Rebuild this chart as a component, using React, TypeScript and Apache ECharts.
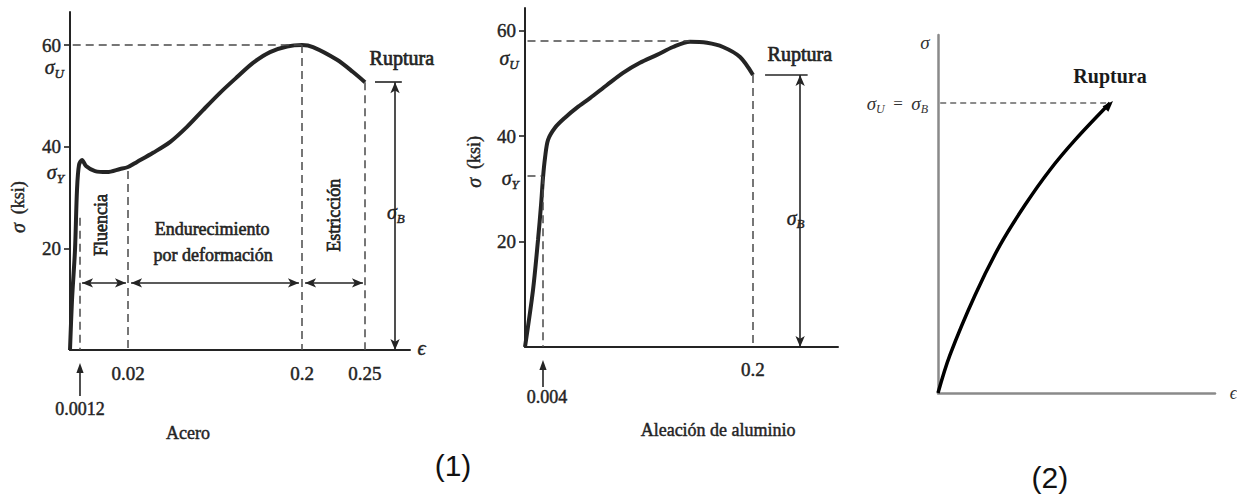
import React, { useEffect, useRef } from "react";
import * as echarts from "echarts";

const SERIF = '"Liberation Serif", "DejaVu Serif", serif';
const SANS = '"Liberation Sans", "DejaVu Sans", sans-serif';
const INK = "#242424";
const DASH = "#4a4a4a";

// ---------- (1) Acero ----------
// schematic (not-to-scale) strain axis: tick strains and their positions on a 0-100 axis
const steelStrainTicks = [0, 0.0012, 0.02, 0.2, 0.25];
const steelTickPos = [0, 2.94, 17.06, 68.24, 86.76];
const steelTickLabels = ["", "0.0012", "0.02", "0.2", "0.25"];
const steelYTicks = [20, 40, 60];
const steelStrain = [0, 0.00024, 0.0006, 0.00084, 0.00108, 0.002, 0.00355, 0.0071, 0.0118, 0.0169, 0.02, 0.0293, 0.0459, 0.0634, 0.081, 0.0976, 0.1152, 0.1328, 0.1493, 0.1669, 0.1845, 0.2, 0.2087, 0.2278, 0.2405, 0.25];
const steelStress = [0, 9.8, 19.7, 31.5, 36.4, 37.4, 36.2, 35.2, 35.0, 35.6, 36.0, 37.0, 38.8, 40.9, 43.9, 47.2, 50.6, 53.7, 56.5, 58.6, 59.7, 60.0, 59.6, 57.1, 54.7, 52.7];
const steelUltimate = 60;
const steelYield = 36.0;
const steelRupture = 52.7;

// ---------- (1) Aleación de aluminio ----------
const aluStrainTicks = [0, 0.004, 0.2];
const aluTickPos = [0, 5.75, 72.84];
const aluTickLabels = ["", "0.004", "0.2"];
const aluYTicks = [20, 40, 60];
const aluStrain = [0, 0.00178, 0.00289, 0.00356, 0.004, 0.0059, 0.0087, 0.0152, 0.0245, 0.0357, 0.0479, 0.0637, 0.0787, 0.0945, 0.1104, 0.1253, 0.1412, 0.1571, 0.172, 0.1879, 0.2];
const aluStress = [0, 10.8, 20.3, 26.9, 32.1, 35.9, 39.3, 41.6, 43.5, 45.4, 47.2, 49.7, 52.0, 53.9, 55.4, 56.9, 57.9, 57.7, 56.9, 55.0, 51.6];
const aluUltimate = 58.0;
const aluYield = 32.4;
const aluRupture = 51.6;
const aluUltimateStrain = 0.141;

// ---------- (2) brittle material (dimensionless) ----------
const brittleStrain = [0, 0.043, 0.134, 0.224, 0.314, 0.404, 0.495, 0.621];
const brittleStress = [0, 0.106, 0.274, 0.413, 0.525, 0.623, 0.707, 0.81];

function piecewise(v: number, xs: number[], ys: number[]) {
  const n = xs.length;
  for (let i = 1; i < n; i++) {
    if (v <= xs[i] || i === n - 1) {
      return ys[i - 1] + ((v - xs[i - 1]) / (xs[i] - xs[i - 1])) * (ys[i] - ys[i - 1]);
    }
  }
  return ys[n - 1];
}
const sPos = (s: number) => piecewise(s, steelStrainTicks, steelTickPos);
const aPos = (s: number) => piecewise(s, aluStrainTicks, aluTickPos);

const dashed = (a: number[], b: number[]) => [{ coord: a }, { coord: b }];
const dblArrow = (a: number[], b: number[]) => [
  { coord: a, symbol: "arrow", lineStyle: { type: "solid", color: INK, width: 1.6 } },
  { coord: b, symbol: "arrow" },
];
const solid = (a: number[], b: number[]) => [
  { coord: a, symbol: "none", lineStyle: { type: "solid", color: INK, width: 1.6 } },
  { coord: b, symbol: "none" },
];

function yAxisFor(grid: number, max: number, ticks: number[]) {
  return {
    gridIndex: grid,
    type: "value",
    min: 0,
    max,
    interval: 20,
    axisLine: { show: true, lineStyle: { color: INK, width: 2 } },
    axisTick: { show: true, length: 6, customValues: ticks, lineStyle: { color: INK, width: 1.6 } },
    axisLabel: {
      customValues: ticks,
      margin: 9,
      fontFamily: SERIF,
      fontSize: 19,
      color: INK,
      textBorderColor: INK,
      textBorderWidth: 0.4,
    },
    splitLine: { show: false },
  };
}
function xAxisFor(grid: number, max: number, color: string, width: number) {
  return {
    gridIndex: grid,
    type: "value",
    min: 0,
    max,
    axisLine: { show: true, onZero: false, lineStyle: { color, width } },
    axisTick: { show: false },
    axisLabel: { show: false },
    splitLine: { show: false },
  };
}

function buildOption() {
  const markBase = {
    silent: true,
    animation: false,
    symbol: "none",
    symbolSize: [7, 11],
    label: { show: false },
    emphasis: { disabled: true },
    lineStyle: { color: DASH, width: 1.5, type: [8, 5] },
  };
  const steelArrowY = 13.2;
  const steelSigmaBX = 95.6;
  const aluSigmaBX = 87.9;
  return {
    animation: false,
    backgroundColor: "#ffffff",
    grid: [
      { left: 70, top: 12, width: 340, height: 338 },
      { left: 525, top: 8, width: 313, height: 339 },
      { left: 938, top: 35, width: 277, height: 358 },
    ],
    xAxis: [xAxisFor(0, 100, INK, 2), xAxisFor(1, 100, INK, 2), xAxisFor(2, 1, "#8a8a8a", 2.5)],
    yAxis: [
      yAxisFor(0, 66.5, steelYTicks),
      yAxisFor(1, 64.3, aluYTicks),
      {
        gridIndex: 2,
        type: "value",
        min: 0,
        max: 1,
        axisLine: { show: true, lineStyle: { color: "#8a8a8a", width: 2.5 } },
        axisTick: { show: false },
        axisLabel: { show: false },
        splitLine: { show: false },
      },
    ],
    series: [
      {
        name: "Acero",
        type: "line",
        xAxisIndex: 0,
        yAxisIndex: 0,
        data: steelStrain.map((s, i) => [sPos(s), steelStress[i]]),
        symbol: "none",
        smooth: 0.3,
        lineStyle: { color: INK, width: 4 },
        markLine: {
          ...markBase,
          data: [
            dashed([0.8, steelUltimate], [sPos(0.2), steelUltimate]),
            dashed([sPos(0.2), steelUltimate], [sPos(0.2), 0]),
            dashed([sPos(0.25), steelRupture], [sPos(0.25), 0]),
            dashed([sPos(0.02), steelYield - 0.8], [sPos(0.02), 0]),
            dashed([sPos(0.0012), 26], [sPos(0.0012), 0]),
            dblArrow([sPos(0.0012) + 0.6, steelArrowY], [sPos(0.02) - 0.6, steelArrowY]),
            dblArrow([sPos(0.02) + 0.9, steelArrowY], [sPos(0.2) - 0.9, steelArrowY]),
            dblArrow([sPos(0.2) + 0.9, steelArrowY], [sPos(0.25) - 0.6, steelArrowY]),
            dblArrow([steelSigmaBX, steelRupture], [steelSigmaBX, 0]),
            solid([89.7, steelRupture], [97.6, steelRupture]),
          ],
        },
      },
      {
        name: "Aleación de aluminio",
        type: "line",
        xAxisIndex: 1,
        yAxisIndex: 1,
        data: aluStrain.map((s, i) => [aPos(s), aluStress[i]]),
        symbol: "none",
        smooth: 0.3,
        lineStyle: { color: INK, width: 4 },
        markLine: {
          ...markBase,
          data: [
            dashed([0.8, aluUltimate], [aPos(aluUltimateStrain), aluUltimate]),
            dashed([0.8, aluYield], [aPos(0.004) - 0.5, aluYield]),
            dashed([aPos(0.004), aluYield], [aPos(0.004), 0]),
            dashed([aPos(0.2), aluRupture], [aPos(0.2), 0]),
            dblArrow([aluSigmaBX, aluRupture], [aluSigmaBX, 0]),
            solid([76.7, aluRupture], [90.3, aluRupture]),
          ],
        },
      },
      {
        name: "Material frágil",
        type: "line",
        xAxisIndex: 2,
        yAxisIndex: 2,
        data: brittleStrain.map((s, i) => [s, brittleStress[i]]),
        symbol: "none",
        smooth: 0.35,
        lineStyle: { color: "#000", width: 3.5 },
        markLine: {
          ...markBase,
          lineStyle: { color: "#8c8c8c", width: 2, type: [6, 4] },
          data: [dashed([0.008, brittleStress[brittleStress.length - 1]], [brittleStrain[brittleStrain.length - 1], brittleStress[brittleStress.length - 1]])],
        },
      },
    ],
  };
}

function buildGraphics(chart: any) {
  const P = (g: number, x: number, y: number) => chart.convertToPixel({ gridIndex: g }, [x, y]) as number[];
  const els: any[] = [];
  const text = (
    p: number[],
    t: string,
    font: string,
    opts: { align?: string; rotation?: number; dy?: number; dx?: number; rich?: any; fill?: string; heavy?: number } = {}
  ) => {
    const align = opts.align || "center";
    const fill = opts.fill || INK;
    els.push({
      type: "text",
      x: p[0] + (opts.dx || 0),
      y: p[1] + (opts.dy || 0),
      rotation: opts.rotation || 0,
      silent: true,
      style: {
        text: t,
        font,
        fill,
        stroke: fill,
        lineWidth: opts.heavy === undefined ? 0.45 : opts.heavy,
        align,
        verticalAlign: "middle",
        textAlign: align,
        textVerticalAlign: "middle",
        rich: opts.rich,
      },
    });
  };
  const head = (tx: number, ty: number, dx: number, dy: number, len = 10, half = 3.6, fill = INK) => {
    const n = Math.hypot(dx, dy);
    const ux = dx / n;
    const uy = dy / n;
    const bx = tx - ux * len;
    const by = ty - uy * len;
    els.push({
      type: "polygon",
      silent: true,
      shape: { points: [[tx, ty], [bx - uy * half, by + ux * half], [bx + uy * half, by - ux * half]] },
      style: { fill },
    });
  };
  const vline = (x: number, y1: number, y2: number) =>
    els.push({ type: "line", silent: true, shape: { x1: x, y1, x2: x, y2 }, style: { stroke: INK, lineWidth: 1.6 } });

  const f = (size: number, extra = "") => `${extra} ${size}px ${SERIF}`.trim();
  const sigmaRich = {
    s: { font: f(20, "italic"), fill: INK, stroke: INK, lineWidth: 0.4 },
    u: { font: f(13, "italic"), fill: INK, padding: [12, 0, 0, 0] },
    t: { font: f(18), fill: INK, stroke: INK, lineWidth: 0.4 },
  };

  // ---- Steel ----
  text(P(0, -15.3, 28.1), "{s|σ}{t|  (ksi)}", f(19), { rotation: Math.PI / 2, rich: sigmaRich });
  text(P(0, -1.8, 55.6), "{s|σ}{u|U}", f(19), { align: "right", rich: sigmaRich });
  text(P(0, -1.8, 35.0), "{s|σ}{u|Y}", f(19), { align: "right", rich: sigmaRich });
  text(P(0, 9.1, 24.6), "Fluencia", f(18), { rotation: Math.PI / 2, heavy: 0.7 });
  text(P(0, 41.8, 23.8), "Endurecimiento", f(18), { heavy: 0.6 });
  text(P(0, 42.1, 18.7), "por deformación", f(18), { heavy: 0.6 });
  text(P(0, 77.6, 26.5), "Estricción", f(18), { rotation: Math.PI / 2, heavy: 0.7 });
  text(P(0, 97.6, 57.4), "Ruptura", f(20), { heavy: 0.7 });
  text(P(0, 93.2, 27.1), "{s|σ}{u|B}", f(19), { align: "left", rich: sigmaRich });
  text(P(0, 103.4, 0.4), "ϵ", f(20, "italic"));
  for (let i = 2; i < steelTickPos.length; i++) {
    text(P(0, steelTickPos[i], 0), steelTickLabels[i], f(19), { dy: 23 });
  }
  {
    const p = P(0, steelTickPos[1], 0);
    text(p, steelTickLabels[1], f(18), { dy: 59 });
    vline(p[0], p[1] + 46, p[1] + 20);
    head(p[0], p[1] + 13, 0, -1);
  }
  text(P(0, 34.7, 0), "Acero", f(18), { dy: 83 });

  // ---- Aluminium ----
  text(P(1, -16.3, 35.1), "{s|σ}{t|  (ksi)}", f(19), { rotation: Math.PI / 2, rich: sigmaRich });
  text(P(1, -2.0, 54.8), "{s|σ}{u|U}", f(19), { align: "right", rich: sigmaRich });
  text(P(1, -2.0, 32.0), "{s|σ}{u|Y}", f(19), { align: "right", rich: sigmaRich });
  text(P(1, 87.8, 55.6), "Ruptura", f(20), { heavy: 0.7 });
  text(P(1, 83.6, 24.5), "{s|σ}{u|B}", f(19), { align: "left", rich: sigmaRich });
  text(P(1, aluTickPos[2], 0), aluTickLabels[2], f(19), { dy: 22 });
  {
    const p = P(1, aluTickPos[1], 0);
    text(p, aluTickLabels[1], f(18), { dy: 50, dx: 4 });
    vline(p[0], p[1] + 40, p[1] + 20);
    head(p[0], p[1] + 13, 0, -1);
  }
  text(P(1, 61.7, 0), "Aleación de aluminio", f(18), { dy: 83 });

  // ---- Brittle ----
  const richSmall = {
    s: { font: f(19, "italic"), fill: "#333" },
    u: { font: f(12, "italic"), fill: "#333", padding: [11, 0, 0, 0] },
    t: { font: f(17), fill: "#333" },
  };
  text(P(2, -0.03, 0.978), "{s|σ}", f(16), { align: "right", rich: richSmall, heavy: 0 });
  text(P(2, -0.036, 0.81), "{s|σ}{u|U}{t|  =  }{s|σ}{u|B}", f(16), { align: "right", rich: richSmall, heavy: 0 });
  text(P(2, 0.621, 0.885), "Ruptura", f(20, "bold"), { fill: "#1a1a1a", heavy: 0 });
  text(P(2, 1.066, 0), "ϵ", f(18, "italic"), { fill: "#333", heavy: 0 });
  {
    const n = brittleStrain.length;
    const a = P(2, brittleStrain[n - 2], brittleStress[n - 2]);
    const b = P(2, brittleStrain[n - 1], brittleStress[n - 1]);
    head(b[0] + 3, b[1] - 2, b[0] - a[0], b[1] - a[1], 11, 4, "#000");
  }
  text(P(2, 0.404, -0.237), "(2)", `30px ${SANS}`, { fill: "#111", heavy: 0 });
  els.push({
    type: "text",
    x: 453,
    y: 465,
    silent: true,
    style: { text: "(1)", font: `30px ${SANS}`, fill: "#111", align: "center", verticalAlign: "middle", textAlign: "center", textVerticalAlign: "middle" },
  });
  return els;
}

export default function App() {
  const ref = useRef<HTMLDivElement>(null);
  useEffect(() => {
    const el = ref.current;
    if (!el) return;
    const chart = echarts.init(el, null, { renderer: "svg" });
    chart.setOption(buildOption() as any);
    chart.setOption({ graphic: buildGraphics(chart) } as any);
    return () => chart.dispose();
  }, []);
  return (
    <div
      ref={ref}
      style={{ position: "absolute", left: 0, top: 0, width: 1237, height: 497, background: "#fff" }}
    />
  );
}
